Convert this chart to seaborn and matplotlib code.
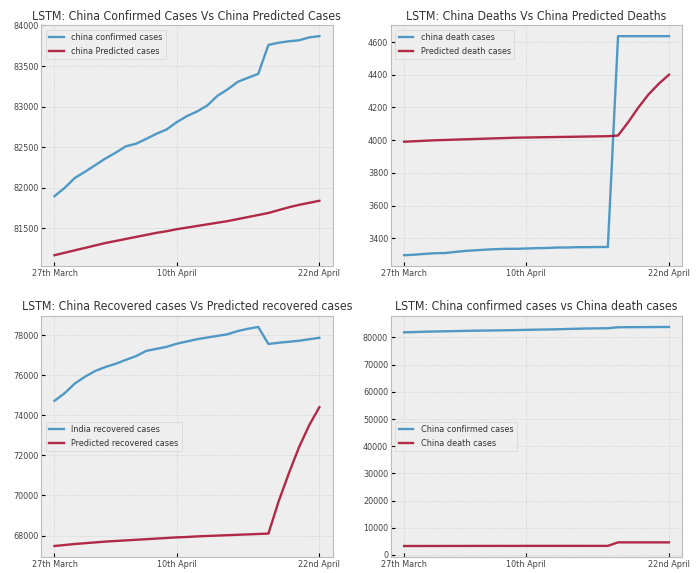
import pandas as pd
import matplotlib
matplotlib.use('Agg')
import matplotlib.pyplot as plt
import seaborn as sns

# Daily values, 27 March .. 22 April (27 days)
confirmed = [81897, 81999, 82122, 82198, 82279, 82361, 82432, 82511, 82543, 82602,
             82665, 82718, 82809, 82883, 82941, 83014, 83134, 83213, 83306, 83356,
             83403, 83760, 83787, 83805, 83817, 83853, 83868]
predicted_confirmed = [81170, 81200, 81230, 81260, 81290, 81320, 81345, 81370, 81395, 81420,
                       81445, 81465, 81490, 81510, 81530, 81550, 81570, 81590, 81615, 81640,
                       81665, 81690, 81725, 81760, 81790, 81815, 81840]

deaths = [3296, 3299, 3304, 3308, 3309, 3316, 3322, 3326, 3330, 3333,
          3335, 3335, 3337, 3339, 3340, 3343, 3343, 3345, 3345, 3346,
          3346, 4636, 4636, 4636, 4636, 4636, 4636]
predicted_deaths = [3990, 3993, 3996, 3999, 4001, 4003, 4005, 4007, 4009, 4011,
                    4013, 4015, 4016, 4017, 4018, 4019, 4020, 4021, 4022, 4023,
                    4024, 4028, 4110, 4200, 4280, 4345, 4400]

recovered = [74720, 75100, 75582, 75923, 76206, 76405, 76565, 76760, 76946, 77207,
             77310, 77410, 77567, 77679, 77791, 77877, 77956, 78039, 78200, 78311,
             78401, 77552, 77614, 77663, 77714, 77790, 77860]
predicted_recovered = [67480, 67530, 67580, 67620, 67660, 67700, 67730, 67760, 67790, 67820,
                       67850, 67880, 67910, 67930, 67960, 67980, 68000, 68020, 68040, 68060,
                       68080, 68100, 69700, 71100, 72400, 73500, 74400]

tick_pos = [0, 12, 26]
tick_labels = ['27th March', '10th April', '22nd April']

days = list(range(len(confirmed)))

plt.style.use('bmh')
plt.rcParams['grid.linestyle'] = ':'
plt.rcParams['grid.color'] = '#c4c4c4'
plt.rcParams['font.family'] = ['DejaVu Sans']
plt.rcParams['font.stretch'] = 'condensed'
plt.rcParams['text.color'] = '#333333'
plt.rcParams['xtick.labelcolor'] = '#444444'
plt.rcParams['ytick.labelcolor'] = '#444444'

fig, axes = plt.subplots(2, 2, figsize=(6.99, 5.73), dpi=100)
fig.subplots_adjust(left=0.059, right=0.976, top=0.956, bottom=0.028, wspace=0.2, hspace=0.207)

blue = '#348ABD'
red = '#A60628'

panels = [
    (axes[0, 0], confirmed, predicted_confirmed, 'china confirmed cases', 'china Predicted cases',
     'LSTM: China Confirmed Cases Vs China Predicted Cases', 'upper left'),
    (axes[0, 1], deaths, predicted_deaths, 'china death cases', 'Predicted death cases',
     'LSTM: China Deaths Vs China Predicted Deaths', 'upper left'),
    (axes[1, 0], recovered, predicted_recovered, 'India recovered cases', 'Predicted recovered cases',
     'LSTM: China Recovered cases Vs Predicted recovered cases', 'center left'),
    (axes[1, 1], confirmed, deaths, 'China confirmed cases', 'China death cases',
     'LSTM: China confirmed cases vs China death cases', 'center left'),
]

for ax, s1, s2, l1, l2, title, loc in panels:
    df = pd.DataFrame({'day': days, 'a': s1, 'b': s2})
    sns.lineplot(data=df, x='day', y='a', color=blue, label=l1, linewidth=1.7, alpha=0.85, ax=ax)
    sns.lineplot(data=df, x='day', y='b', color=red, label=l2, linewidth=1.7, alpha=0.85, ax=ax)
    ax.set_title(title, fontsize=8.8, pad=4)
    ax.set_xlabel('')
    ax.set_ylabel('')
    ax.set_xticks(tick_pos)
    ax.set_xticklabels(tick_labels)
    ax.tick_params(labelsize=6.5, length=3, pad=2)
    ax.legend(loc=loc, fontsize=6.5, handlelength=1.6)

fig.savefig('out.png', dpi=100)
